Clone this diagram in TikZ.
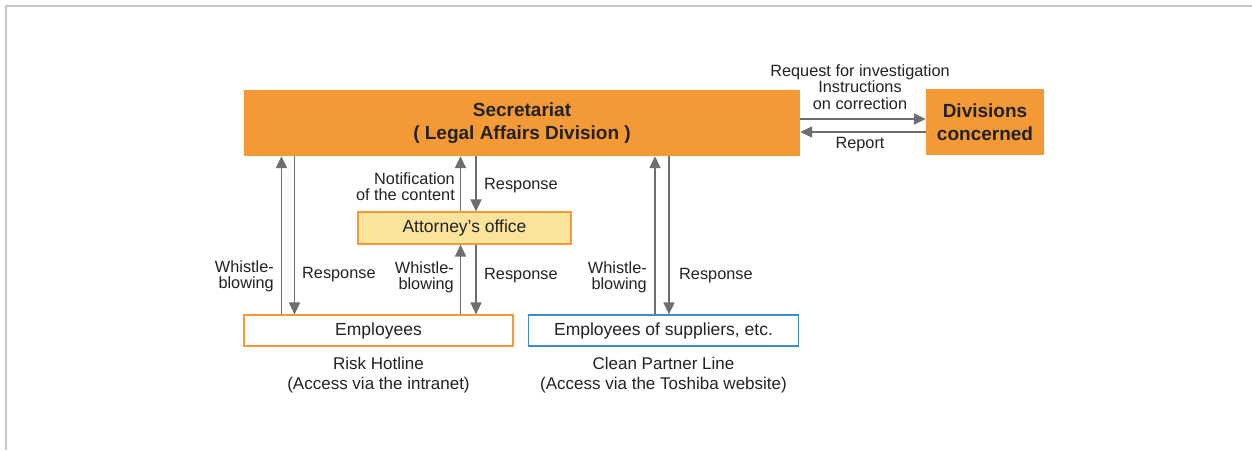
\documentclass[tikz,border=0pt]{standalone}
\usepackage{fontspec}
\setmainfont{Liberation Sans}
\usetikzlibrary{positioning, arrows.meta}
\definecolor{SecOrange}{HTML}{F39A37}
\definecolor{AttYellow}{HTML}{FAE39B}
\definecolor{SupBlue}{HTML}{3F8AC6}
\definecolor{TextDark}{HTML}{222222}
\definecolor{ArrowGray}{HTML}{6E6E6E}
\definecolor{FrameGray}{HTML}{C8C8C8}
\tikzset{
    mainbox/.style={rectangle, fill=SecOrange, text=TextDark, align=center, inner sep=0pt, font=\bfseries\fontsize{19}{23}\selectfont},
    attbox/.style={rectangle, fill=AttYellow, draw=SecOrange, line width=1.2pt, text=TextDark, inner sep=0pt, font=\fontsize{17.5}{20}\selectfont},
    empbox/.style={rectangle, fill=white, draw=SecOrange, line width=1.2pt, text=TextDark, inner sep=0pt, font=\fontsize{17.5}{20}\selectfont},
    supbox/.style={empbox, draw=SupBlue},
    lbl/.style={inner sep=0pt, text=TextDark, font=\fontsize{16.3}{16.3}\selectfont},
    caption/.style={inner sep=0pt, text=TextDark, align=center, font=\fontsize{17}{20}\selectfont},
    arr/.style={-{Triangle[length=12pt, width=11pt]}, line width=1.7pt, draw=ArrowGray},
}
\begin{document}
\begin{tikzpicture}[x=1pt, y=-1pt]
    \useasboundingbox (0,0) rectangle (1252,450);
    % Rahmen
    \draw[FrameGray, line width=2pt] (5,6) -- (1252,6) (6,6) -- (6,450);

    % Kaesten
    \node[mainbox, minimum width=556pt, minimum height=66pt] (sec) at (522,123) {Secretariat\\( Legal Affairs Division )};
    \node[mainbox, minimum width=118pt, minimum height=66pt] (div) at (985,122) {Divisions\\concerned};
    \node[attbox, minimum width=213pt, minimum height=32pt] (att) at (464.5,228) {Attorney's office};
    \node[empbox, minimum width=269pt, minimum height=31pt] (emp) at (378.5,330.5) {Employees};
    \node[supbox, minimum width=270pt, minimum height=31pt] (sup) at (663.5,330.5) {Employees of suppliers, etc.};

    % Unterschriften
    \node[caption, below=10.5pt of emp] (risk) {Risk Hotline\\(Access via the intranet)};
    \node[caption, below=10.5pt of sup] (clean) {Clean Partner Line\\(Access via the Toshiba website)};

    % Pfeile Sekretariat <-> Abteilungen
    \draw[arr] ([yshift=4pt]sec.east) -- ([yshift=3pt]div.west);
    \draw[arr] ([yshift=-10pt]div.west) -- ([yshift=-9pt]sec.east);
    \node[lbl, align=center] (req) at (860,87) {Request for investigation\\Instructions\\on correction};
    \node[lbl] (rep) at (860,145) {Report};

    % Pfeile Mitarbeiter
    \draw[arr] ([xshift=-97pt]emp.north) -- ([xshift=-240.5pt]sec.south);
    \draw[arr] ([xshift=-227.5pt]sec.south) -- ([xshift=-84pt]emp.north);
    \node[lbl, anchor=east, align=right] (wb1) at (274,276) {Whistle-\\blowing};
    \node[lbl, anchor=west] (re1) at (302,275) {Response};

    % Pfeile Anwalt
    \draw[arr] ([xshift=-4pt]att.north) -- ([xshift=-61.5pt]sec.south);
    \draw[arr] ([xshift=-46pt]sec.south) -- ([xshift=11.5pt]att.north);
    \node[lbl, anchor=east, align=right] (note) at (455,187) {Notification\\of the content};
    \node[lbl, anchor=west] (re2) at (484,186) {Response};
    \draw[arr] ([xshift=82pt]emp.north) -- ([xshift=-4pt]att.south);
    \draw[arr] ([xshift=11.5pt]att.south) -- ([xshift=97.5pt]emp.north);
    \node[lbl, anchor=east, align=right] (wb2) at (454,277) {Whistle-\\blowing};
    \node[lbl, anchor=west] (re3) at (484,276) {Response};

    % Pfeile Lieferanten
    \draw[arr] ([xshift=-8.5pt]sup.north) -- ([xshift=133pt]sec.south);
    \draw[arr] ([xshift=147pt]sec.south) -- ([xshift=5.5pt]sup.north);
    \node[lbl, anchor=east, align=right] (wb3) at (647,277) {Whistle-\\blowing};
    \node[lbl, anchor=west] (re4) at (679,276) {Response};
\end{tikzpicture}
\end{document}
